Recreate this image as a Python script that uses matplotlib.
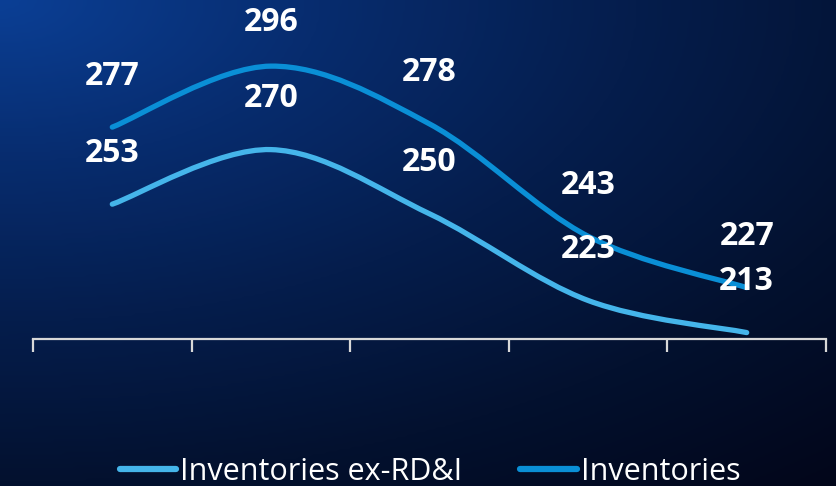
import numpy as np
import matplotlib
matplotlib.use("Agg")
import matplotlib.pyplot as plt
from matplotlib.path import Path
from matplotlib.patches import PathPatch
from matplotlib.lines import Line2D
from matplotlib.colors import LinearSegmentedColormap

# data
periods = ["P1", "P2", "P3", "P4", "P5"]
inventories = [277, 296, 278, 243, 227]
inventories_ex_rdi = [253, 270, 250, 223, 213]

col_inv = "#0a8fd6"
col_ex = "#45b5ea"

W, H = 837, 486
fig = plt.figure(figsize=(W / 100, H / 100), dpi=100)

# background gradient, bright blue in the top-left fading to near black
bg = fig.add_axes([0, 0, 1, 1], zorder=-10)
bg.axis("off")
yy, xx = np.mgrid[0:1:200j, 0:1:300j]
d = np.sqrt((xx * 1.0) ** 2 + (yy * 1.15) ** 2) / np.sqrt(1 + 1.15 ** 2)
cmap = LinearSegmentedColormap.from_list(
    "bgc", ["#0b3f95", "#072c6e", "#051d4c", "#03112f", "#02061a"])
bg.imshow(d, cmap=cmap, aspect="auto", extent=[0, 1, 1, 0],
          interpolation="bicubic")
bg.set_xlim(0, 1)
bg.set_ylim(1, 0)

ax = fig.add_axes([33 / W, (H - 339) / H, (826 - 33) / W, 339 / H])
ax.patch.set_alpha(0)
x = np.arange(len(periods))
ax.set_xlim(-0.5, len(periods) - 0.5)
ax.set_ylim(211, 316.6)


def smooth_path(xs, ys, t=0.5):
    # catmull-rom style cubic bezier through the points
    pts = np.column_stack([np.asarray(xs, float), np.asarray(ys, float)])
    verts = [pts[0]]
    codes = [Path.MOVETO]
    n = len(pts)
    for i in range(n - 1):
        p0 = pts[i - 1] if i > 0 else pts[i]
        p1 = pts[i]
        p2 = pts[i + 1]
        p3 = pts[i + 2] if i + 2 < n else pts[i + 1]
        c1 = p1 + (p2 - p0) * t / 3
        c2 = p2 - (p3 - p1) * t / 3
        verts += [c1, c2, p2]
        codes += [Path.CURVE4] * 3
    return Path(verts, codes)


for vals, c in [(inventories_ex_rdi, col_ex), (inventories, col_inv)]:
    ax.add_patch(PathPatch(smooth_path(x, vals), facecolor="none",
                           edgecolor=c, lw=3.8, capstyle="round",
                           joinstyle="round", zorder=3))

# value labels above the points, kept inside the top edge
for vals in [inventories, inventories_ex_rdi]:
    for xi, v in zip(x, vals):
        px, py = ax.transData.transform((xi, v))
        dy = min(51, (H - 22) - py)
        ax.annotate(str(v), (xi, v), xytext=(0, dy), textcoords="offset pixels",
                    ha="center", va="center", color="white", fontsize=23,
                    fontweight="bold", family="Open Sans", zorder=5,
                    annotation_clip=False)

# axis with category boundary ticks
for s in ["top", "right", "left"]:
    ax.spines[s].set_visible(False)
ax.spines["bottom"].set_color("#d8d8d8")
ax.spines["bottom"].set_linewidth(1.6)
ax.set_yticks([])
ax.set_xticks(np.arange(-0.5, len(periods)))
ax.set_xticklabels([])
ax.tick_params(axis="x", length=9, width=1.6, color="#d8d8d8", direction="out")

handles = [Line2D([], [], color=col_ex, lw=4.5, solid_capstyle="round"),
           Line2D([], [], color=col_inv, lw=4.5, solid_capstyle="round")]
leg = fig.legend(handles, ["Inventories ex-RD&I", "Inventories"], ncol=2,
                 loc="center", bbox_to_anchor=(430 / W, 14 / H), frameon=False,
                 prop={"family": "Open Sans", "size": 22}, handlelength=1.85,
                 handletextpad=0.12, columnspacing=1.9, borderaxespad=0)
for t in leg.get_texts():
    t.set_color("white")

fig.savefig("out.png", dpi=100)
